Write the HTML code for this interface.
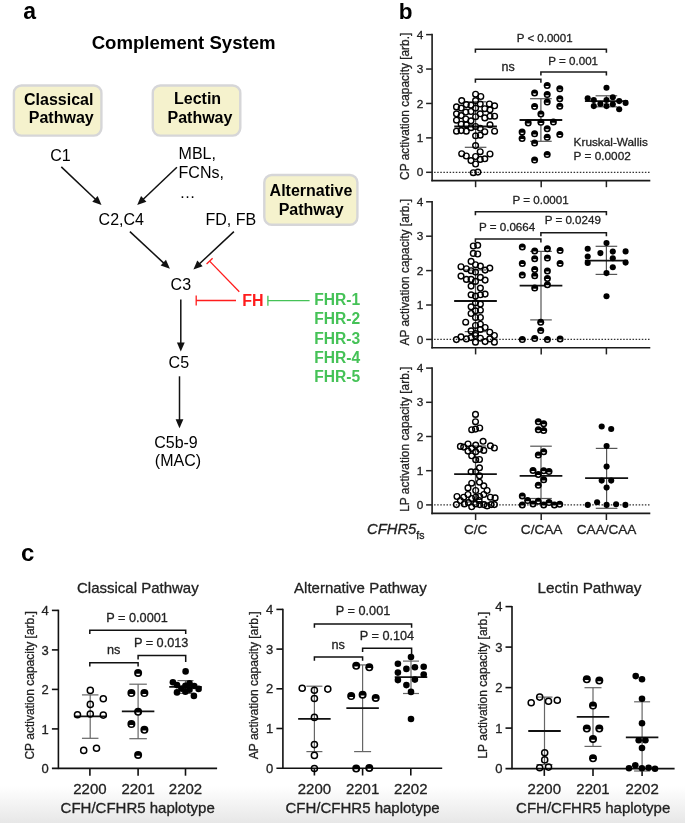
<!DOCTYPE html>
<html><head><meta charset="utf-8"><style>
html,body{margin:0;padding:0;background:#fff;}
svg{display:block;will-change:transform;}
text{font-family:"Liberation Sans", sans-serif;}
</style></head><body>
<svg width="685" height="824" viewBox="0 0 685 824" font-family='"Liberation Sans", sans-serif'>
<defs><linearGradient id="bg" x1="0" y1="0" x2="0" y2="1"><stop offset="0" stop-color="#ffffff"/><stop offset="0.3" stop-color="#f8f8f8"/><stop offset="1" stop-color="#e7e7e7"/></linearGradient></defs>
<rect x="0" y="786" width="685" height="37" fill="url(#bg)"/>
<text x="23.3" y="18.8" font-size="23" font-weight="bold" fill="#000" text-anchor="start">a</text>
<text x="91.7" y="49.0" font-size="18.6" font-weight="bold" fill="#000" text-anchor="start">Complement System</text>
<rect x="13.9" y="85.5" width="87.5" height="50.1" rx="7.5" ry="7.5" fill="#f5f2cd" stroke="#d6d6d8" stroke-width="2.4"/>
<rect x="152.8" y="85.5" width="87.5" height="50.1" rx="7.5" ry="7.5" fill="#f5f2cd" stroke="#d6d6d8" stroke-width="2.4"/>
<rect x="264.3" y="175.0" width="93.1" height="49.8" rx="7.5" ry="7.5" fill="#f5f2cd" stroke="#d6d6d8" stroke-width="2.4"/>
<text x="24.0" y="104.7" font-size="16" font-weight="bold" fill="#000" text-anchor="start">Classical</text>
<text x="28.8" y="123.2" font-size="16" font-weight="bold" fill="#000" text-anchor="start">Pathway</text>
<text x="174.0" y="103.9" font-size="16" font-weight="bold" fill="#000" text-anchor="start">Lectin</text>
<text x="167.5" y="123.2" font-size="16" font-weight="bold" fill="#000" text-anchor="start">Pathway</text>
<text x="269.6" y="196.2" font-size="16" font-weight="bold" fill="#000" text-anchor="start">Alternative</text>
<text x="278.7" y="214.6" font-size="16" font-weight="bold" fill="#000" text-anchor="start">Pathway</text>
<text x="50.3" y="161.0" font-size="16" fill="#000" text-anchor="start">C1</text>
<text x="178.6" y="159.4" font-size="16" fill="#000" text-anchor="start">MBL,</text>
<text x="178.6" y="177.7" font-size="16" fill="#000" text-anchor="start">FCNs,</text>
<text x="179.5" y="197.6" font-size="16" fill="#000" text-anchor="start">…</text>
<text x="98.6" y="225.3" font-size="16" fill="#000" text-anchor="start">C2,C4</text>
<text x="205.5" y="225.3" font-size="16" fill="#000" text-anchor="start">FD, FB</text>
<text x="170.6" y="290.3" font-size="16" fill="#000" text-anchor="start">C3</text>
<text x="168.6" y="367.5" font-size="16" fill="#000" text-anchor="start">C5</text>
<text x="154.2" y="448.4" font-size="16" fill="#000" text-anchor="start">C5b-9</text>
<text x="154.8" y="466.0" font-size="16" fill="#000" text-anchor="start">(MAC)</text>
<text x="242.3" y="305.6" font-size="16" font-weight="bold" fill="#ff1c1c" text-anchor="start">FH</text>
<text x="314.2" y="305.4" font-size="15.6" font-weight="bold" fill="#45c257" text-anchor="start">FHR-1</text>
<text x="314.2" y="324.4" font-size="15.6" font-weight="bold" fill="#45c257" text-anchor="start">FHR-2</text>
<text x="314.2" y="343.5" font-size="15.6" font-weight="bold" fill="#45c257" text-anchor="start">FHR-3</text>
<text x="314.2" y="362.5" font-size="15.6" font-weight="bold" fill="#45c257" text-anchor="start">FHR-4</text>
<text x="314.2" y="381.6" font-size="15.6" font-weight="bold" fill="#45c257" text-anchor="start">FHR-5</text>
<line x1="61.30" y1="166.90" x2="95.69" y2="199.50" stroke="#111" stroke-width="1.5"/>
<polygon points="101.50,205.00 92.28,201.64 97.65,195.98" fill="#111"/>
<line x1="176.90" y1="167.30" x2="143.00" y2="199.49" stroke="#111" stroke-width="1.5"/>
<polygon points="137.20,205.00 141.04,195.97 146.41,201.63" fill="#111"/>
<line x1="129.90" y1="231.60" x2="164.04" y2="263.35" stroke="#111" stroke-width="1.5"/>
<polygon points="169.90,268.80 160.65,265.53 165.97,259.82" fill="#111"/>
<line x1="233.90" y1="231.60" x2="199.24" y2="264.03" stroke="#111" stroke-width="1.5"/>
<polygon points="193.40,269.50 197.31,260.50 202.64,266.20" fill="#111"/>
<line x1="180.80" y1="299.50" x2="180.80" y2="343.50" stroke="#111" stroke-width="1.5"/>
<polygon points="180.80,351.50 176.90,342.50 184.70,342.50" fill="#111"/>
<line x1="179.50" y1="376.30" x2="179.50" y2="420.20" stroke="#111" stroke-width="1.5"/>
<polygon points="179.50,428.20 175.60,419.20 183.40,419.20" fill="#111"/>
<line x1="239.30" y1="291.80" x2="209.60" y2="261.10" stroke="#ff1c1c" stroke-width="1.3"/>
<line x1="212.62" y1="258.18" x2="206.58" y2="264.02" stroke="#ff1c1c" stroke-width="1.3"/>
<line x1="236.00" y1="300.50" x2="196.20" y2="300.50" stroke="#ff1c1c" stroke-width="1.3"/>
<line x1="196.20" y1="295.50" x2="196.20" y2="305.50" stroke="#ff1c1c" stroke-width="1.3"/>
<line x1="309.60" y1="300.70" x2="267.90" y2="300.70" stroke="#45c257" stroke-width="1.3"/>
<line x1="267.90" y1="295.70" x2="267.90" y2="305.70" stroke="#45c257" stroke-width="1.3"/>
<text x="398.8" y="18.5" font-size="22.5" font-weight="bold" fill="#000" text-anchor="start">b</text>
<line x1="432.10" y1="33.87" x2="432.10" y2="181.35" stroke="#1a1a1a" stroke-width="1.6"/>
<line x1="431.35" y1="180.60" x2="650.30" y2="180.60" stroke="#1a1a1a" stroke-width="1.6"/>
<line x1="426.10" y1="172.30" x2="432.10" y2="172.30" stroke="#222" stroke-width="1.5"/>
<text x="423.4" y="176.4" font-size="11.8" fill="#222" text-anchor="end" stroke="#222" stroke-width="0.3" stroke-linejoin="round">0</text>
<line x1="426.10" y1="137.88" x2="432.10" y2="137.88" stroke="#222" stroke-width="1.5"/>
<text x="423.4" y="142.0" font-size="11.8" fill="#222" text-anchor="end" stroke="#222" stroke-width="0.3" stroke-linejoin="round">1</text>
<line x1="426.10" y1="103.46" x2="432.10" y2="103.46" stroke="#222" stroke-width="1.5"/>
<text x="423.4" y="107.6" font-size="11.8" fill="#222" text-anchor="end" stroke="#222" stroke-width="0.3" stroke-linejoin="round">2</text>
<line x1="426.10" y1="69.04" x2="432.10" y2="69.04" stroke="#222" stroke-width="1.5"/>
<text x="423.4" y="73.1" font-size="11.8" fill="#222" text-anchor="end" stroke="#222" stroke-width="0.3" stroke-linejoin="round">3</text>
<line x1="426.10" y1="34.62" x2="432.10" y2="34.62" stroke="#222" stroke-width="1.5"/>
<text x="423.4" y="38.7" font-size="11.8" fill="#222" text-anchor="end" stroke="#222" stroke-width="0.3" stroke-linejoin="round">4</text>
<line x1="475.60" y1="180.60" x2="475.60" y2="187.20" stroke="#222" stroke-width="1.5"/>
<line x1="541.20" y1="180.60" x2="541.20" y2="187.20" stroke="#222" stroke-width="1.5"/>
<line x1="606.40" y1="180.60" x2="606.40" y2="187.20" stroke="#222" stroke-width="1.5"/>
<line x1="434.1" y1="172.3" x2="650" y2="172.3" stroke="#333" stroke-width="1.2" stroke-dasharray="1.5,1.6"/>
<text transform="translate(409.3,106.3) rotate(-90)" font-size="11.9" fill="#222" stroke="#222" stroke-width="0.3" stroke-linejoin="round" text-anchor="middle">CP activation capacity [arb.]</text>
<line x1="475.60" y1="101.80" x2="475.60" y2="147.30" stroke="#555" stroke-width="1.2"/>
<line x1="464.80" y1="101.80" x2="486.40" y2="101.80" stroke="#555" stroke-width="1.2"/>
<line x1="464.80" y1="147.30" x2="486.40" y2="147.30" stroke="#555" stroke-width="1.2"/>
<line x1="540.90" y1="98.70" x2="540.90" y2="141.30" stroke="#555" stroke-width="1.2"/>
<line x1="530.10" y1="98.70" x2="551.70" y2="98.70" stroke="#555" stroke-width="1.2"/>
<line x1="530.10" y1="141.30" x2="551.70" y2="141.30" stroke="#555" stroke-width="1.2"/>
<line x1="606.40" y1="95.80" x2="606.40" y2="106.80" stroke="#555" stroke-width="1.2"/>
<line x1="595.60" y1="95.80" x2="617.20" y2="95.80" stroke="#555" stroke-width="1.2"/>
<line x1="595.60" y1="106.80" x2="617.20" y2="106.80" stroke="#555" stroke-width="1.2"/>
<line x1="454.25" y1="126.50" x2="496.95" y2="126.50" stroke="#111" stroke-width="1.8"/>
<line x1="519.55" y1="120.00" x2="562.25" y2="120.00" stroke="#111" stroke-width="1.8"/>
<line x1="584.90" y1="101.10" x2="627.90" y2="101.10" stroke="#111" stroke-width="1.8"/>
<circle cx="475.6" cy="94.2" r="2.85" fill="none" stroke="#000" stroke-width="1.4"/>
<circle cx="480.8" cy="96.5" r="2.85" fill="none" stroke="#000" stroke-width="1.4"/>
<circle cx="461.7" cy="100.6" r="2.85" fill="none" stroke="#000" stroke-width="1.4"/>
<circle cx="475.6" cy="100.6" r="2.85" fill="none" stroke="#000" stroke-width="1.4"/>
<circle cx="466.3" cy="104.6" r="2.85" fill="none" stroke="#000" stroke-width="1.4"/>
<circle cx="471.0" cy="105.2" r="2.85" fill="none" stroke="#000" stroke-width="1.4"/>
<circle cx="480.2" cy="104.0" r="2.85" fill="none" stroke="#000" stroke-width="1.4"/>
<circle cx="489.4" cy="104.0" r="2.85" fill="none" stroke="#000" stroke-width="1.4"/>
<circle cx="494.6" cy="105.8" r="2.85" fill="none" stroke="#000" stroke-width="1.4"/>
<circle cx="456.5" cy="106.9" r="2.85" fill="none" stroke="#000" stroke-width="1.4"/>
<circle cx="461.2" cy="108.1" r="2.85" fill="none" stroke="#000" stroke-width="1.4"/>
<circle cx="475.6" cy="108.1" r="2.85" fill="none" stroke="#000" stroke-width="1.4"/>
<circle cx="484.8" cy="108.7" r="2.85" fill="none" stroke="#000" stroke-width="1.4"/>
<circle cx="456.5" cy="113.8" r="2.85" fill="none" stroke="#000" stroke-width="1.4"/>
<circle cx="465.8" cy="112.1" r="2.85" fill="none" stroke="#000" stroke-width="1.4"/>
<circle cx="471.0" cy="111.5" r="2.85" fill="none" stroke="#000" stroke-width="1.4"/>
<circle cx="480.2" cy="113.8" r="2.85" fill="none" stroke="#000" stroke-width="1.4"/>
<circle cx="490.0" cy="109.8" r="2.85" fill="none" stroke="#000" stroke-width="1.4"/>
<circle cx="461.2" cy="115.6" r="2.85" fill="none" stroke="#000" stroke-width="1.4"/>
<circle cx="475.6" cy="116.7" r="2.85" fill="none" stroke="#000" stroke-width="1.4"/>
<circle cx="484.8" cy="117.9" r="2.85" fill="none" stroke="#000" stroke-width="1.4"/>
<circle cx="490.0" cy="116.2" r="2.85" fill="none" stroke="#000" stroke-width="1.4"/>
<circle cx="494.6" cy="116.2" r="2.85" fill="none" stroke="#000" stroke-width="1.4"/>
<circle cx="456.5" cy="120.2" r="2.85" fill="none" stroke="#000" stroke-width="1.4"/>
<circle cx="465.8" cy="119.0" r="2.85" fill="none" stroke="#000" stroke-width="1.4"/>
<circle cx="471.0" cy="120.8" r="2.85" fill="none" stroke="#000" stroke-width="1.4"/>
<circle cx="461.2" cy="124.2" r="2.85" fill="none" stroke="#000" stroke-width="1.4"/>
<circle cx="466.3" cy="124.8" r="2.85" fill="none" stroke="#000" stroke-width="1.4"/>
<circle cx="475.6" cy="126.5" r="2.85" fill="none" stroke="#000" stroke-width="1.4"/>
<circle cx="490.0" cy="124.8" r="2.85" fill="none" stroke="#000" stroke-width="1.4"/>
<circle cx="456.5" cy="131.2" r="2.85" fill="none" stroke="#000" stroke-width="1.4"/>
<circle cx="461.2" cy="130.6" r="2.85" fill="none" stroke="#000" stroke-width="1.4"/>
<circle cx="466.3" cy="131.2" r="2.85" fill="none" stroke="#000" stroke-width="1.4"/>
<circle cx="471.0" cy="127.7" r="2.85" fill="none" stroke="#000" stroke-width="1.4"/>
<circle cx="480.2" cy="128.3" r="2.85" fill="none" stroke="#000" stroke-width="1.4"/>
<circle cx="484.8" cy="131.7" r="2.85" fill="none" stroke="#000" stroke-width="1.4"/>
<circle cx="494.6" cy="131.2" r="2.85" fill="none" stroke="#000" stroke-width="1.4"/>
<circle cx="475.6" cy="135.8" r="2.85" fill="none" stroke="#000" stroke-width="1.4"/>
<circle cx="480.2" cy="135.2" r="2.85" fill="none" stroke="#000" stroke-width="1.4"/>
<circle cx="475.6" cy="145.6" r="2.85" fill="none" stroke="#000" stroke-width="1.4"/>
<circle cx="461.7" cy="153.7" r="2.85" fill="none" stroke="#000" stroke-width="1.4"/>
<circle cx="466.3" cy="156.0" r="2.85" fill="none" stroke="#000" stroke-width="1.4"/>
<circle cx="480.2" cy="151.7" r="2.85" fill="none" stroke="#000" stroke-width="1.4"/>
<circle cx="490.0" cy="154.0" r="2.85" fill="none" stroke="#000" stroke-width="1.4"/>
<circle cx="471.0" cy="160.6" r="2.85" fill="none" stroke="#000" stroke-width="1.4"/>
<circle cx="475.6" cy="156.5" r="2.85" fill="none" stroke="#000" stroke-width="1.4"/>
<circle cx="480.2" cy="159.4" r="2.85" fill="none" stroke="#000" stroke-width="1.4"/>
<circle cx="484.8" cy="158.8" r="2.85" fill="none" stroke="#000" stroke-width="1.4"/>
<circle cx="475.6" cy="164.0" r="2.85" fill="none" stroke="#000" stroke-width="1.4"/>
<circle cx="473.3" cy="172.7" r="2.85" fill="none" stroke="#000" stroke-width="1.4"/>
<circle cx="477.9" cy="172.1" r="2.85" fill="none" stroke="#000" stroke-width="1.4"/>
<circle cx="547.2" cy="85.4" r="3.5" fill="#000"/>
<path d="M545.40,85.98 A1.75,1.40 0 0 0 548.90,85.98 Z" fill="#fff"/>
<circle cx="559.8" cy="88.8" r="3.5" fill="#000"/>
<path d="M558.09,89.45 A1.75,1.40 0 0 0 561.59,89.45 Z" fill="#fff"/>
<circle cx="534.6" cy="92.9" r="3.5" fill="#000"/>
<path d="M532.83,93.48 A1.75,1.40 0 0 0 536.33,93.48 Z" fill="#fff"/>
<circle cx="547.2" cy="94.6" r="3.5" fill="#000"/>
<path d="M545.40,95.21 A1.75,1.40 0 0 0 548.90,95.21 Z" fill="#fff"/>
<circle cx="559.8" cy="98.7" r="3.5" fill="#000"/>
<path d="M558.09,99.25 A1.75,1.40 0 0 0 561.59,99.25 Z" fill="#fff"/>
<circle cx="547.2" cy="102.1" r="3.5" fill="#000"/>
<path d="M545.40,102.71 A1.75,1.40 0 0 0 548.90,102.71 Z" fill="#fff"/>
<circle cx="534.6" cy="106.4" r="3.5" fill="#000"/>
<path d="M532.83,106.98 A1.75,1.40 0 0 0 536.33,106.98 Z" fill="#fff"/>
<circle cx="559.8" cy="106.2" r="3.5" fill="#000"/>
<path d="M558.09,106.75 A1.75,1.40 0 0 0 561.59,106.75 Z" fill="#fff"/>
<circle cx="540.9" cy="114.0" r="3.5" fill="#000"/>
<path d="M539.17,114.60 A1.75,1.40 0 0 0 542.67,114.60 Z" fill="#fff"/>
<circle cx="528.2" cy="122.9" r="3.5" fill="#000"/>
<path d="M526.48,123.48 A1.75,1.40 0 0 0 529.98,123.48 Z" fill="#fff"/>
<circle cx="540.9" cy="122.3" r="3.5" fill="#000"/>
<path d="M539.17,122.91 A1.75,1.40 0 0 0 542.67,122.91 Z" fill="#fff"/>
<circle cx="553.4" cy="122.1" r="3.5" fill="#000"/>
<path d="M551.63,122.68 A1.75,1.40 0 0 0 555.13,122.68 Z" fill="#fff"/>
<circle cx="547.2" cy="128.7" r="3.5" fill="#000"/>
<path d="M545.40,129.25 A1.75,1.40 0 0 0 548.90,129.25 Z" fill="#fff"/>
<circle cx="522.1" cy="132.1" r="3.5" fill="#000"/>
<path d="M520.36,132.71 A1.75,1.40 0 0 0 523.86,132.71 Z" fill="#fff"/>
<circle cx="534.6" cy="133.8" r="3.5" fill="#000"/>
<path d="M532.83,134.44 A1.75,1.40 0 0 0 536.33,134.44 Z" fill="#fff"/>
<circle cx="559.8" cy="134.4" r="3.5" fill="#000"/>
<path d="M558.09,135.02 A1.75,1.40 0 0 0 561.59,135.02 Z" fill="#fff"/>
<circle cx="522.1" cy="138.5" r="3.5" fill="#000"/>
<path d="M520.36,139.06 A1.75,1.40 0 0 0 523.86,139.06 Z" fill="#fff"/>
<circle cx="547.2" cy="137.3" r="3.5" fill="#000"/>
<path d="M545.40,137.91 A1.75,1.40 0 0 0 548.90,137.91 Z" fill="#fff"/>
<circle cx="534.6" cy="143.1" r="3.5" fill="#000"/>
<path d="M532.83,143.67 A1.75,1.40 0 0 0 536.33,143.67 Z" fill="#fff"/>
<circle cx="547.2" cy="154.6" r="3.5" fill="#000"/>
<path d="M545.40,155.21 A1.75,1.40 0 0 0 548.90,155.21 Z" fill="#fff"/>
<circle cx="534.6" cy="160.0" r="3.5" fill="#000"/>
<path d="M532.83,160.64 A1.75,1.40 0 0 0 536.33,160.64 Z" fill="#fff"/>
<circle cx="606.5" cy="87.7" r="3.05" fill="#000"/>
<circle cx="587.7" cy="98.2" r="3.05" fill="#000"/>
<circle cx="593.8" cy="100.0" r="3.05" fill="#000"/>
<circle cx="606.5" cy="100.0" r="3.05" fill="#000"/>
<circle cx="612.8" cy="97.3" r="3.05" fill="#000"/>
<circle cx="619.2" cy="101.1" r="3.05" fill="#000"/>
<circle cx="625.6" cy="102.9" r="3.05" fill="#000"/>
<circle cx="600.4" cy="103.9" r="3.05" fill="#000"/>
<circle cx="593.8" cy="106.1" r="3.05" fill="#000"/>
<circle cx="606.5" cy="106.1" r="3.05" fill="#000"/>
<circle cx="612.8" cy="104.3" r="3.05" fill="#000"/>
<circle cx="619.2" cy="109.2" r="3.05" fill="#000"/>
<line x1="432.10" y1="201.05" x2="432.10" y2="348.55" stroke="#1a1a1a" stroke-width="1.6"/>
<line x1="431.35" y1="347.80" x2="650.30" y2="347.80" stroke="#1a1a1a" stroke-width="1.6"/>
<line x1="426.10" y1="339.40" x2="432.10" y2="339.40" stroke="#222" stroke-width="1.5"/>
<text x="423.4" y="343.5" font-size="11.8" fill="#222" text-anchor="end" stroke="#222" stroke-width="0.3" stroke-linejoin="round">0</text>
<line x1="426.10" y1="305.00" x2="432.10" y2="305.00" stroke="#222" stroke-width="1.5"/>
<text x="423.4" y="309.1" font-size="11.8" fill="#222" text-anchor="end" stroke="#222" stroke-width="0.3" stroke-linejoin="round">1</text>
<line x1="426.10" y1="270.60" x2="432.10" y2="270.60" stroke="#222" stroke-width="1.5"/>
<text x="423.4" y="274.7" font-size="11.8" fill="#222" text-anchor="end" stroke="#222" stroke-width="0.3" stroke-linejoin="round">2</text>
<line x1="426.10" y1="236.20" x2="432.10" y2="236.20" stroke="#222" stroke-width="1.5"/>
<text x="423.4" y="240.3" font-size="11.8" fill="#222" text-anchor="end" stroke="#222" stroke-width="0.3" stroke-linejoin="round">3</text>
<line x1="426.10" y1="201.80" x2="432.10" y2="201.80" stroke="#222" stroke-width="1.5"/>
<text x="423.4" y="205.9" font-size="11.8" fill="#222" text-anchor="end" stroke="#222" stroke-width="0.3" stroke-linejoin="round">4</text>
<line x1="475.60" y1="347.80" x2="475.60" y2="354.40" stroke="#222" stroke-width="1.5"/>
<line x1="541.20" y1="347.80" x2="541.20" y2="354.40" stroke="#222" stroke-width="1.5"/>
<line x1="606.40" y1="347.80" x2="606.40" y2="354.40" stroke="#222" stroke-width="1.5"/>
<line x1="434.1" y1="339.4" x2="650" y2="339.4" stroke="#333" stroke-width="1.2" stroke-dasharray="1.5,1.6"/>
<text transform="translate(409.3,272.3) rotate(-90)" font-size="11.9" fill="#222" stroke="#222" stroke-width="0.3" stroke-linejoin="round" text-anchor="middle">AP activation capacity [arb.]</text>
<line x1="475.50" y1="270.00" x2="475.50" y2="331.60" stroke="#555" stroke-width="1.2"/>
<line x1="464.70" y1="270.00" x2="486.30" y2="270.00" stroke="#555" stroke-width="1.2"/>
<line x1="464.70" y1="331.60" x2="486.30" y2="331.60" stroke="#555" stroke-width="1.2"/>
<line x1="541.00" y1="251.40" x2="541.00" y2="319.90" stroke="#555" stroke-width="1.2"/>
<line x1="530.20" y1="251.40" x2="551.80" y2="251.40" stroke="#555" stroke-width="1.2"/>
<line x1="530.20" y1="319.90" x2="551.80" y2="319.90" stroke="#555" stroke-width="1.2"/>
<line x1="606.40" y1="246.30" x2="606.40" y2="274.40" stroke="#555" stroke-width="1.2"/>
<line x1="595.60" y1="246.30" x2="617.20" y2="246.30" stroke="#555" stroke-width="1.2"/>
<line x1="595.60" y1="274.40" x2="617.20" y2="274.40" stroke="#555" stroke-width="1.2"/>
<line x1="454.15" y1="301.00" x2="496.85" y2="301.00" stroke="#111" stroke-width="1.8"/>
<line x1="519.65" y1="285.70" x2="562.35" y2="285.70" stroke="#111" stroke-width="1.8"/>
<line x1="584.90" y1="260.60" x2="627.90" y2="260.60" stroke="#111" stroke-width="1.8"/>
<circle cx="473.3" cy="246.0" r="2.85" fill="none" stroke="#000" stroke-width="1.4"/>
<circle cx="477.7" cy="245.3" r="2.85" fill="none" stroke="#000" stroke-width="1.4"/>
<circle cx="473.3" cy="253.4" r="2.85" fill="none" stroke="#000" stroke-width="1.4"/>
<circle cx="477.7" cy="254.0" r="2.85" fill="none" stroke="#000" stroke-width="1.4"/>
<circle cx="471.1" cy="261.4" r="2.85" fill="none" stroke="#000" stroke-width="1.4"/>
<circle cx="461.0" cy="266.7" r="2.85" fill="none" stroke="#000" stroke-width="1.4"/>
<circle cx="466.4" cy="268.7" r="2.85" fill="none" stroke="#000" stroke-width="1.4"/>
<circle cx="471.1" cy="270.7" r="2.85" fill="none" stroke="#000" stroke-width="1.4"/>
<circle cx="475.5" cy="264.7" r="2.85" fill="none" stroke="#000" stroke-width="1.4"/>
<circle cx="480.4" cy="266.1" r="2.85" fill="none" stroke="#000" stroke-width="1.4"/>
<circle cx="485.1" cy="270.1" r="2.85" fill="none" stroke="#000" stroke-width="1.4"/>
<circle cx="489.8" cy="268.1" r="2.85" fill="none" stroke="#000" stroke-width="1.4"/>
<circle cx="475.5" cy="272.1" r="2.85" fill="none" stroke="#000" stroke-width="1.4"/>
<circle cx="461.0" cy="276.1" r="2.85" fill="none" stroke="#000" stroke-width="1.4"/>
<circle cx="466.4" cy="279.4" r="2.85" fill="none" stroke="#000" stroke-width="1.4"/>
<circle cx="471.1" cy="279.4" r="2.85" fill="none" stroke="#000" stroke-width="1.4"/>
<circle cx="475.5" cy="281.4" r="2.85" fill="none" stroke="#000" stroke-width="1.4"/>
<circle cx="480.4" cy="277.4" r="2.85" fill="none" stroke="#000" stroke-width="1.4"/>
<circle cx="485.1" cy="280.1" r="2.85" fill="none" stroke="#000" stroke-width="1.4"/>
<circle cx="471.1" cy="286.1" r="2.85" fill="none" stroke="#000" stroke-width="1.4"/>
<circle cx="480.4" cy="288.1" r="2.85" fill="none" stroke="#000" stroke-width="1.4"/>
<circle cx="471.1" cy="294.8" r="2.85" fill="none" stroke="#000" stroke-width="1.4"/>
<circle cx="475.5" cy="296.1" r="2.85" fill="none" stroke="#000" stroke-width="1.4"/>
<circle cx="480.4" cy="294.8" r="2.85" fill="none" stroke="#000" stroke-width="1.4"/>
<circle cx="485.1" cy="294.1" r="2.85" fill="none" stroke="#000" stroke-width="1.4"/>
<circle cx="475.5" cy="302.8" r="2.85" fill="none" stroke="#000" stroke-width="1.4"/>
<circle cx="480.4" cy="304.1" r="2.85" fill="none" stroke="#000" stroke-width="1.4"/>
<circle cx="471.1" cy="306.8" r="2.85" fill="none" stroke="#000" stroke-width="1.4"/>
<circle cx="475.5" cy="310.8" r="2.85" fill="none" stroke="#000" stroke-width="1.4"/>
<circle cx="480.4" cy="310.2" r="2.85" fill="none" stroke="#000" stroke-width="1.4"/>
<circle cx="471.1" cy="313.5" r="2.85" fill="none" stroke="#000" stroke-width="1.4"/>
<circle cx="475.5" cy="317.5" r="2.85" fill="none" stroke="#000" stroke-width="1.4"/>
<circle cx="480.4" cy="317.5" r="2.85" fill="none" stroke="#000" stroke-width="1.4"/>
<circle cx="465.7" cy="322.2" r="2.85" fill="none" stroke="#000" stroke-width="1.4"/>
<circle cx="475.5" cy="325.5" r="2.85" fill="none" stroke="#000" stroke-width="1.4"/>
<circle cx="480.4" cy="324.2" r="2.85" fill="none" stroke="#000" stroke-width="1.4"/>
<circle cx="485.1" cy="327.5" r="2.85" fill="none" stroke="#000" stroke-width="1.4"/>
<circle cx="471.1" cy="330.9" r="2.85" fill="none" stroke="#000" stroke-width="1.4"/>
<circle cx="475.5" cy="333.5" r="2.85" fill="none" stroke="#000" stroke-width="1.4"/>
<circle cx="480.4" cy="329.5" r="2.85" fill="none" stroke="#000" stroke-width="1.4"/>
<circle cx="489.8" cy="332.2" r="2.85" fill="none" stroke="#000" stroke-width="1.4"/>
<circle cx="494.4" cy="335.5" r="2.85" fill="none" stroke="#000" stroke-width="1.4"/>
<circle cx="456.4" cy="339.6" r="2.85" fill="none" stroke="#000" stroke-width="1.4"/>
<circle cx="461.0" cy="336.9" r="2.85" fill="none" stroke="#000" stroke-width="1.4"/>
<circle cx="466.4" cy="338.9" r="2.85" fill="none" stroke="#000" stroke-width="1.4"/>
<circle cx="471.1" cy="337.6" r="2.85" fill="none" stroke="#000" stroke-width="1.4"/>
<circle cx="475.5" cy="342.2" r="2.85" fill="none" stroke="#000" stroke-width="1.4"/>
<circle cx="480.4" cy="338.2" r="2.85" fill="none" stroke="#000" stroke-width="1.4"/>
<circle cx="485.1" cy="341.6" r="2.85" fill="none" stroke="#000" stroke-width="1.4"/>
<circle cx="489.8" cy="338.9" r="2.85" fill="none" stroke="#000" stroke-width="1.4"/>
<circle cx="494.4" cy="342.2" r="2.85" fill="none" stroke="#000" stroke-width="1.4"/>
<circle cx="475.5" cy="335.5" r="2.85" fill="none" stroke="#000" stroke-width="1.4"/>
<circle cx="522.3" cy="246.9" r="3.5" fill="#000"/>
<path d="M520.54,247.55 A1.75,1.40 0 0 0 524.04,247.55 Z" fill="#fff"/>
<circle cx="534.7" cy="251.0" r="3.5" fill="#000"/>
<path d="M532.97,251.56 A1.75,1.40 0 0 0 536.47,251.56 Z" fill="#fff"/>
<circle cx="547.4" cy="248.7" r="3.5" fill="#000"/>
<path d="M545.67,249.29 A1.75,1.40 0 0 0 549.17,249.29 Z" fill="#fff"/>
<circle cx="560.1" cy="250.4" r="3.5" fill="#000"/>
<path d="M558.36,251.02 A1.75,1.40 0 0 0 561.86,251.02 Z" fill="#fff"/>
<circle cx="534.7" cy="258.7" r="3.5" fill="#000"/>
<path d="M532.97,259.31 A1.75,1.40 0 0 0 536.47,259.31 Z" fill="#fff"/>
<circle cx="547.4" cy="258.0" r="3.5" fill="#000"/>
<path d="M545.67,258.64 A1.75,1.40 0 0 0 549.17,258.64 Z" fill="#fff"/>
<circle cx="522.3" cy="263.4" r="3.5" fill="#000"/>
<path d="M520.54,263.99 A1.75,1.40 0 0 0 524.04,263.99 Z" fill="#fff"/>
<circle cx="560.1" cy="263.4" r="3.5" fill="#000"/>
<path d="M558.36,263.99 A1.75,1.40 0 0 0 561.86,263.99 Z" fill="#fff"/>
<circle cx="534.7" cy="269.4" r="3.5" fill="#000"/>
<path d="M532.97,270.00 A1.75,1.40 0 0 0 536.47,270.00 Z" fill="#fff"/>
<circle cx="547.4" cy="271.0" r="3.5" fill="#000"/>
<path d="M545.67,271.60 A1.75,1.40 0 0 0 549.17,271.60 Z" fill="#fff"/>
<circle cx="522.3" cy="275.0" r="3.5" fill="#000"/>
<path d="M520.54,275.61 A1.75,1.40 0 0 0 524.04,275.61 Z" fill="#fff"/>
<circle cx="534.7" cy="275.8" r="3.5" fill="#000"/>
<path d="M532.97,276.41 A1.75,1.40 0 0 0 536.47,276.41 Z" fill="#fff"/>
<circle cx="547.4" cy="278.5" r="3.5" fill="#000"/>
<path d="M545.67,279.09 A1.75,1.40 0 0 0 549.17,279.09 Z" fill="#fff"/>
<circle cx="547.4" cy="284.8" r="3.5" fill="#000"/>
<path d="M545.67,285.37 A1.75,1.40 0 0 0 549.17,285.37 Z" fill="#fff"/>
<circle cx="534.7" cy="288.1" r="3.5" fill="#000"/>
<path d="M532.97,288.71 A1.75,1.40 0 0 0 536.47,288.71 Z" fill="#fff"/>
<circle cx="540.7" cy="322.2" r="3.5" fill="#000"/>
<path d="M538.99,322.79 A1.75,1.40 0 0 0 542.49,322.79 Z" fill="#fff"/>
<circle cx="540.7" cy="330.6" r="3.5" fill="#000"/>
<path d="M538.99,331.21 A1.75,1.40 0 0 0 542.49,331.21 Z" fill="#fff"/>
<circle cx="522.3" cy="339.6" r="3.5" fill="#000"/>
<path d="M520.54,340.16 A1.75,1.40 0 0 0 524.04,340.16 Z" fill="#fff"/>
<circle cx="534.7" cy="338.6" r="3.5" fill="#000"/>
<path d="M532.97,339.22 A1.75,1.40 0 0 0 536.47,339.22 Z" fill="#fff"/>
<circle cx="547.4" cy="339.6" r="3.5" fill="#000"/>
<path d="M545.67,340.16 A1.75,1.40 0 0 0 549.17,340.16 Z" fill="#fff"/>
<circle cx="560.1" cy="338.9" r="3.5" fill="#000"/>
<path d="M558.36,339.49 A1.75,1.40 0 0 0 561.86,339.49 Z" fill="#fff"/>
<circle cx="606.5" cy="243.1" r="3.05" fill="#000"/>
<circle cx="587.7" cy="248.8" r="3.05" fill="#000"/>
<circle cx="600.4" cy="253.1" r="3.05" fill="#000"/>
<circle cx="612.8" cy="251.6" r="3.05" fill="#000"/>
<circle cx="625.6" cy="251.4" r="3.05" fill="#000"/>
<circle cx="587.7" cy="256.5" r="3.05" fill="#000"/>
<circle cx="612.8" cy="258.2" r="3.05" fill="#000"/>
<circle cx="587.7" cy="262.9" r="3.05" fill="#000"/>
<circle cx="625.6" cy="262.6" r="3.05" fill="#000"/>
<circle cx="612.8" cy="267.2" r="3.05" fill="#000"/>
<circle cx="606.5" cy="273.1" r="3.05" fill="#000"/>
<circle cx="606.5" cy="296.2" r="3.05" fill="#000"/>
<line x1="432.10" y1="367.35" x2="432.10" y2="514.15" stroke="#1a1a1a" stroke-width="1.6"/>
<line x1="431.35" y1="513.40" x2="650.30" y2="513.40" stroke="#1a1a1a" stroke-width="1.6"/>
<line x1="426.10" y1="504.90" x2="432.10" y2="504.90" stroke="#222" stroke-width="1.5"/>
<text x="423.4" y="509.0" font-size="11.8" fill="#222" text-anchor="end" stroke="#222" stroke-width="0.3" stroke-linejoin="round">0</text>
<line x1="426.10" y1="470.70" x2="432.10" y2="470.70" stroke="#222" stroke-width="1.5"/>
<text x="423.4" y="474.8" font-size="11.8" fill="#222" text-anchor="end" stroke="#222" stroke-width="0.3" stroke-linejoin="round">1</text>
<line x1="426.10" y1="436.50" x2="432.10" y2="436.50" stroke="#222" stroke-width="1.5"/>
<text x="423.4" y="440.6" font-size="11.8" fill="#222" text-anchor="end" stroke="#222" stroke-width="0.3" stroke-linejoin="round">2</text>
<line x1="426.10" y1="402.30" x2="432.10" y2="402.30" stroke="#222" stroke-width="1.5"/>
<text x="423.4" y="406.4" font-size="11.8" fill="#222" text-anchor="end" stroke="#222" stroke-width="0.3" stroke-linejoin="round">3</text>
<line x1="426.10" y1="368.10" x2="432.10" y2="368.10" stroke="#222" stroke-width="1.5"/>
<text x="423.4" y="372.2" font-size="11.8" fill="#222" text-anchor="end" stroke="#222" stroke-width="0.3" stroke-linejoin="round">4</text>
<line x1="475.60" y1="513.40" x2="475.60" y2="520.00" stroke="#222" stroke-width="1.5"/>
<line x1="541.20" y1="513.40" x2="541.20" y2="520.00" stroke="#222" stroke-width="1.5"/>
<line x1="606.40" y1="513.40" x2="606.40" y2="520.00" stroke="#222" stroke-width="1.5"/>
<line x1="434.1" y1="504.9" x2="650" y2="504.9" stroke="#333" stroke-width="1.2" stroke-dasharray="1.5,1.6"/>
<text transform="translate(409.3,439.2) rotate(-90)" font-size="11.9" fill="#222" stroke="#222" stroke-width="0.3" stroke-linejoin="round" text-anchor="middle">LP activation capacity [arb.]</text>
<line x1="475.50" y1="446.00" x2="475.50" y2="502.00" stroke="#555" stroke-width="1.2"/>
<line x1="464.70" y1="446.00" x2="486.30" y2="446.00" stroke="#555" stroke-width="1.2"/>
<line x1="464.70" y1="502.00" x2="486.30" y2="502.00" stroke="#555" stroke-width="1.2"/>
<line x1="541.00" y1="446.20" x2="541.00" y2="498.50" stroke="#555" stroke-width="1.2"/>
<line x1="530.20" y1="446.20" x2="551.80" y2="446.20" stroke="#555" stroke-width="1.2"/>
<line x1="530.20" y1="498.50" x2="551.80" y2="498.50" stroke="#555" stroke-width="1.2"/>
<line x1="606.60" y1="448.40" x2="606.60" y2="508.30" stroke="#555" stroke-width="1.2"/>
<line x1="595.80" y1="448.40" x2="617.40" y2="448.40" stroke="#555" stroke-width="1.2"/>
<line x1="595.80" y1="508.30" x2="617.40" y2="508.30" stroke="#555" stroke-width="1.2"/>
<line x1="454.15" y1="474.20" x2="496.85" y2="474.20" stroke="#111" stroke-width="1.8"/>
<line x1="519.65" y1="475.80" x2="562.35" y2="475.80" stroke="#111" stroke-width="1.8"/>
<line x1="585.10" y1="478.20" x2="628.10" y2="478.20" stroke="#111" stroke-width="1.8"/>
<circle cx="475.5" cy="414.4" r="2.85" fill="none" stroke="#000" stroke-width="1.4"/>
<circle cx="475.5" cy="421.7" r="2.85" fill="none" stroke="#000" stroke-width="1.4"/>
<circle cx="471.7" cy="429.7" r="2.85" fill="none" stroke="#000" stroke-width="1.4"/>
<circle cx="475.5" cy="429.1" r="2.85" fill="none" stroke="#000" stroke-width="1.4"/>
<circle cx="479.7" cy="428.0" r="2.85" fill="none" stroke="#000" stroke-width="1.4"/>
<circle cx="483.1" cy="441.3" r="2.85" fill="none" stroke="#000" stroke-width="1.4"/>
<circle cx="460.4" cy="446.4" r="2.85" fill="none" stroke="#000" stroke-width="1.4"/>
<circle cx="463.7" cy="447.1" r="2.85" fill="none" stroke="#000" stroke-width="1.4"/>
<circle cx="468.0" cy="444.0" r="2.85" fill="none" stroke="#000" stroke-width="1.4"/>
<circle cx="471.7" cy="448.4" r="2.85" fill="none" stroke="#000" stroke-width="1.4"/>
<circle cx="475.7" cy="445.1" r="2.85" fill="none" stroke="#000" stroke-width="1.4"/>
<circle cx="479.7" cy="449.1" r="2.85" fill="none" stroke="#000" stroke-width="1.4"/>
<circle cx="483.8" cy="450.4" r="2.85" fill="none" stroke="#000" stroke-width="1.4"/>
<circle cx="468.0" cy="451.1" r="2.85" fill="none" stroke="#000" stroke-width="1.4"/>
<circle cx="475.7" cy="451.8" r="2.85" fill="none" stroke="#000" stroke-width="1.4"/>
<circle cx="490.4" cy="445.8" r="2.85" fill="none" stroke="#000" stroke-width="1.4"/>
<circle cx="494.4" cy="448.0" r="2.85" fill="none" stroke="#000" stroke-width="1.4"/>
<circle cx="471.7" cy="455.8" r="2.85" fill="none" stroke="#000" stroke-width="1.4"/>
<circle cx="475.7" cy="459.8" r="2.85" fill="none" stroke="#000" stroke-width="1.4"/>
<circle cx="479.5" cy="459.5" r="2.85" fill="none" stroke="#000" stroke-width="1.4"/>
<circle cx="479.5" cy="467.8" r="2.85" fill="none" stroke="#000" stroke-width="1.4"/>
<circle cx="471.1" cy="471.8" r="2.85" fill="none" stroke="#000" stroke-width="1.4"/>
<circle cx="475.7" cy="471.8" r="2.85" fill="none" stroke="#000" stroke-width="1.4"/>
<circle cx="479.5" cy="475.8" r="2.85" fill="none" stroke="#000" stroke-width="1.4"/>
<circle cx="471.7" cy="483.2" r="2.85" fill="none" stroke="#000" stroke-width="1.4"/>
<circle cx="479.5" cy="482.2" r="2.85" fill="none" stroke="#000" stroke-width="1.4"/>
<circle cx="468.0" cy="487.9" r="2.85" fill="none" stroke="#000" stroke-width="1.4"/>
<circle cx="483.8" cy="485.8" r="2.85" fill="none" stroke="#000" stroke-width="1.4"/>
<circle cx="475.7" cy="490.5" r="2.85" fill="none" stroke="#000" stroke-width="1.4"/>
<circle cx="487.1" cy="490.5" r="2.85" fill="none" stroke="#000" stroke-width="1.4"/>
<circle cx="457.0" cy="496.5" r="2.85" fill="none" stroke="#000" stroke-width="1.4"/>
<circle cx="463.7" cy="497.2" r="2.85" fill="none" stroke="#000" stroke-width="1.4"/>
<circle cx="468.0" cy="494.5" r="2.85" fill="none" stroke="#000" stroke-width="1.4"/>
<circle cx="471.7" cy="498.5" r="2.85" fill="none" stroke="#000" stroke-width="1.4"/>
<circle cx="475.7" cy="497.2" r="2.85" fill="none" stroke="#000" stroke-width="1.4"/>
<circle cx="479.7" cy="496.5" r="2.85" fill="none" stroke="#000" stroke-width="1.4"/>
<circle cx="483.8" cy="494.5" r="2.85" fill="none" stroke="#000" stroke-width="1.4"/>
<circle cx="490.4" cy="497.2" r="2.85" fill="none" stroke="#000" stroke-width="1.4"/>
<circle cx="495.1" cy="497.9" r="2.85" fill="none" stroke="#000" stroke-width="1.4"/>
<circle cx="456.4" cy="504.6" r="2.85" fill="none" stroke="#000" stroke-width="1.4"/>
<circle cx="460.4" cy="500.5" r="2.85" fill="none" stroke="#000" stroke-width="1.4"/>
<circle cx="464.4" cy="503.9" r="2.85" fill="none" stroke="#000" stroke-width="1.4"/>
<circle cx="468.4" cy="502.6" r="2.85" fill="none" stroke="#000" stroke-width="1.4"/>
<circle cx="471.7" cy="506.8" r="2.85" fill="none" stroke="#000" stroke-width="1.4"/>
<circle cx="475.7" cy="503.9" r="2.85" fill="none" stroke="#000" stroke-width="1.4"/>
<circle cx="479.7" cy="504.6" r="2.85" fill="none" stroke="#000" stroke-width="1.4"/>
<circle cx="483.8" cy="504.6" r="2.85" fill="none" stroke="#000" stroke-width="1.4"/>
<circle cx="487.1" cy="505.9" r="2.85" fill="none" stroke="#000" stroke-width="1.4"/>
<circle cx="491.1" cy="504.6" r="2.85" fill="none" stroke="#000" stroke-width="1.4"/>
<circle cx="494.4" cy="504.6" r="2.85" fill="none" stroke="#000" stroke-width="1.4"/>
<circle cx="479.1" cy="500.5" r="2.85" fill="none" stroke="#000" stroke-width="1.4"/>
<circle cx="538.3" cy="421.7" r="3.5" fill="#000"/>
<path d="M536.58,422.30 A1.75,1.40 0 0 0 540.08,422.30 Z" fill="#fff"/>
<circle cx="543.7" cy="423.7" r="3.5" fill="#000"/>
<path d="M541.93,424.31 A1.75,1.40 0 0 0 545.43,424.31 Z" fill="#fff"/>
<circle cx="538.3" cy="429.7" r="3.5" fill="#000"/>
<path d="M536.58,430.32 A1.75,1.40 0 0 0 540.08,430.32 Z" fill="#fff"/>
<circle cx="543.7" cy="430.4" r="3.5" fill="#000"/>
<path d="M541.93,430.99 A1.75,1.40 0 0 0 545.43,430.99 Z" fill="#fff"/>
<circle cx="543.7" cy="451.8" r="3.5" fill="#000"/>
<path d="M541.93,452.37 A1.75,1.40 0 0 0 545.43,452.37 Z" fill="#fff"/>
<circle cx="538.3" cy="455.1" r="3.5" fill="#000"/>
<path d="M536.58,455.71 A1.75,1.40 0 0 0 540.08,455.71 Z" fill="#fff"/>
<circle cx="533.0" cy="470.5" r="3.5" fill="#000"/>
<path d="M531.24,471.08 A1.75,1.40 0 0 0 534.74,471.08 Z" fill="#fff"/>
<circle cx="538.3" cy="474.5" r="3.5" fill="#000"/>
<path d="M536.58,475.09 A1.75,1.40 0 0 0 540.08,475.09 Z" fill="#fff"/>
<circle cx="543.7" cy="470.7" r="3.5" fill="#000"/>
<path d="M541.93,471.35 A1.75,1.40 0 0 0 545.43,471.35 Z" fill="#fff"/>
<circle cx="549.0" cy="471.6" r="3.5" fill="#000"/>
<path d="M547.27,472.15 A1.75,1.40 0 0 0 550.77,472.15 Z" fill="#fff"/>
<circle cx="543.7" cy="479.8" r="3.5" fill="#000"/>
<path d="M541.93,480.44 A1.75,1.40 0 0 0 545.43,480.44 Z" fill="#fff"/>
<circle cx="538.3" cy="485.2" r="3.5" fill="#000"/>
<path d="M536.58,485.78 A1.75,1.40 0 0 0 540.08,485.78 Z" fill="#fff"/>
<circle cx="522.3" cy="495.9" r="3.5" fill="#000"/>
<path d="M520.54,496.47 A1.75,1.40 0 0 0 524.04,496.47 Z" fill="#fff"/>
<circle cx="527.6" cy="500.5" r="3.5" fill="#000"/>
<path d="M525.89,501.15 A1.75,1.40 0 0 0 529.39,501.15 Z" fill="#fff"/>
<circle cx="533.0" cy="503.9" r="3.5" fill="#000"/>
<path d="M531.24,504.49 A1.75,1.40 0 0 0 534.74,504.49 Z" fill="#fff"/>
<circle cx="538.3" cy="501.2" r="3.5" fill="#000"/>
<path d="M536.58,501.82 A1.75,1.40 0 0 0 540.08,501.82 Z" fill="#fff"/>
<circle cx="543.7" cy="505.0" r="3.5" fill="#000"/>
<path d="M541.93,505.56 A1.75,1.40 0 0 0 545.43,505.56 Z" fill="#fff"/>
<circle cx="549.0" cy="502.6" r="3.5" fill="#000"/>
<path d="M547.27,503.15 A1.75,1.40 0 0 0 550.77,503.15 Z" fill="#fff"/>
<circle cx="554.4" cy="505.0" r="3.5" fill="#000"/>
<path d="M552.62,505.56 A1.75,1.40 0 0 0 556.12,505.56 Z" fill="#fff"/>
<circle cx="559.7" cy="504.2" r="3.5" fill="#000"/>
<path d="M557.96,504.76 A1.75,1.40 0 0 0 561.46,504.76 Z" fill="#fff"/>
<circle cx="522.3" cy="505.0" r="3.5" fill="#000"/>
<path d="M520.54,505.56 A1.75,1.40 0 0 0 524.04,505.56 Z" fill="#fff"/>
<circle cx="601.7" cy="426.5" r="3.05" fill="#000"/>
<circle cx="611.2" cy="429.0" r="3.05" fill="#000"/>
<circle cx="606.6" cy="446.0" r="3.05" fill="#000"/>
<circle cx="606.6" cy="466.6" r="3.05" fill="#000"/>
<circle cx="601.7" cy="480.6" r="3.05" fill="#000"/>
<circle cx="611.2" cy="480.6" r="3.05" fill="#000"/>
<circle cx="606.6" cy="487.6" r="3.05" fill="#000"/>
<circle cx="587.8" cy="504.9" r="3.05" fill="#000"/>
<circle cx="597.1" cy="502.2" r="3.05" fill="#000"/>
<circle cx="606.6" cy="504.9" r="3.05" fill="#000"/>
<circle cx="616.1" cy="504.3" r="3.05" fill="#000"/>
<circle cx="625.4" cy="504.9" r="3.05" fill="#000"/>
<polyline points="475.4,52.8 475.4,49.3 606.4,49.3 606.4,52.8" fill="none" stroke="#1a1a1a" stroke-width="1.55"/>
<text x="516.8" y="41.9" font-size="11.5" fill="#222" text-anchor="start" stroke="#222" stroke-width="0.3" stroke-linejoin="round">P &lt; 0.0001</text>
<polyline points="540.9,75.5 540.9,72.0 606.4,72.0 606.4,75.5" fill="none" stroke="#1a1a1a" stroke-width="1.55"/>
<text x="548.3" y="64.6" font-size="11.6" fill="#222" text-anchor="start" stroke="#222" stroke-width="0.3" stroke-linejoin="round">P = 0.001</text>
<polyline points="475.4,82.7 475.4,79.2 540.9,79.2 540.9,82.7" fill="none" stroke="#1a1a1a" stroke-width="1.55"/>
<text x="501.6" y="71.4" font-size="12.5" fill="#222" text-anchor="start" stroke="#222" stroke-width="0.3" stroke-linejoin="round">ns</text>
<text x="573.6" y="145.8" font-size="11.8" fill="#222" text-anchor="start" stroke="#222" stroke-width="0.3" stroke-linejoin="round">Kruskal-Wallis</text>
<text x="573.6" y="159.9" font-size="11.8" fill="#222" text-anchor="start" stroke="#222" stroke-width="0.3" stroke-linejoin="round">P = 0.0002</text>
<polyline points="475.4,215.3 475.4,211.8 606.4,211.8 606.4,215.3" fill="none" stroke="#1a1a1a" stroke-width="1.55"/>
<text x="512.5" y="203.7" font-size="11.6" fill="#222" text-anchor="start" stroke="#222" stroke-width="0.3" stroke-linejoin="round">P = 0.0001</text>
<polyline points="540.9,236.2 540.9,232.7 606.4,232.7 606.4,236.2" fill="none" stroke="#1a1a1a" stroke-width="1.55"/>
<text x="544.7" y="224.3" font-size="11.6" fill="#222" text-anchor="start" stroke="#222" stroke-width="0.3" stroke-linejoin="round">P = 0.0249</text>
<polyline points="475.4,242.4 475.4,238.9 540.9,238.9 540.9,242.4" fill="none" stroke="#1a1a1a" stroke-width="1.55"/>
<text x="479.0" y="231.0" font-size="11.6" fill="#222" text-anchor="start" stroke="#222" stroke-width="0.3" stroke-linejoin="round">P = 0.0664</text>
<text x="475.6" y="534.3" font-size="13.6" fill="#222" text-anchor="middle" stroke="#222" stroke-width="0.3" stroke-linejoin="round">C/C</text>
<text x="541.6" y="534.3" font-size="13.6" fill="#222" text-anchor="middle" stroke="#222" stroke-width="0.3" stroke-linejoin="round">C/CAA</text>
<text x="606.6" y="534.3" font-size="13.6" fill="#222" text-anchor="middle" stroke="#222" stroke-width="0.3" stroke-linejoin="round">CAA/CAA</text>
<text x="367" y="534.4" font-size="14.8" font-style="italic" fill="#222" stroke="#222" stroke-width="0.3" stroke-linejoin="round">CFHR5<tspan font-size="10.5" font-style="normal" dy="4.6">fs</tspan></text>
<text x="21.0" y="561.3" font-size="24" font-weight="bold" fill="#000" text-anchor="start">c</text>
<line x1="58.40" y1="609.70" x2="58.40" y2="769.10" stroke="#111" stroke-width="1.6"/>
<line x1="51.90" y1="768.40" x2="217.10" y2="768.40" stroke="#111" stroke-width="1.6"/>
<line x1="51.90" y1="728.90" x2="58.40" y2="728.90" stroke="#111" stroke-width="1.6"/>
<line x1="51.90" y1="689.40" x2="58.40" y2="689.40" stroke="#111" stroke-width="1.6"/>
<line x1="51.90" y1="649.90" x2="58.40" y2="649.90" stroke="#111" stroke-width="1.6"/>
<line x1="51.90" y1="610.40" x2="58.40" y2="610.40" stroke="#111" stroke-width="1.6"/>
<text x="48.8" y="773.0" font-size="13" fill="#222" text-anchor="end" stroke="#222" stroke-width="0.3" stroke-linejoin="round">0</text>
<text x="48.8" y="733.5" font-size="13" fill="#222" text-anchor="end" stroke="#222" stroke-width="0.3" stroke-linejoin="round">1</text>
<text x="48.8" y="694.0" font-size="13" fill="#222" text-anchor="end" stroke="#222" stroke-width="0.3" stroke-linejoin="round">2</text>
<text x="48.8" y="654.5" font-size="13" fill="#222" text-anchor="end" stroke="#222" stroke-width="0.3" stroke-linejoin="round">3</text>
<text x="48.8" y="615.0" font-size="13" fill="#222" text-anchor="end" stroke="#222" stroke-width="0.3" stroke-linejoin="round">4</text>
<line x1="89.90" y1="768.40" x2="89.90" y2="775.70" stroke="#111" stroke-width="1.6"/>
<line x1="138.10" y1="768.40" x2="138.10" y2="775.70" stroke="#111" stroke-width="1.6"/>
<line x1="185.50" y1="768.40" x2="185.50" y2="775.70" stroke="#111" stroke-width="1.6"/>
<text transform="translate(34.1,685.3) rotate(-90)" font-size="12" fill="#222" stroke="#222" stroke-width="0.3" stroke-linejoin="round" text-anchor="middle">CP activation capacity [arb.]</text>
<text x="77.0" y="592.5" font-size="15" fill="#222" text-anchor="start" stroke="#222" stroke-width="0.3" stroke-linejoin="round">Classical Pathway</text>
<text x="89.9" y="794.1" font-size="15" fill="#222" text-anchor="middle" stroke="#222" stroke-width="0.3" stroke-linejoin="round">2200</text>
<text x="138.1" y="794.1" font-size="15" fill="#222" text-anchor="middle" stroke="#222" stroke-width="0.3" stroke-linejoin="round">2201</text>
<text x="185.5" y="794.1" font-size="15" fill="#222" text-anchor="middle" stroke="#222" stroke-width="0.3" stroke-linejoin="round">2202</text>
<text x="137.7" y="813.2" font-size="15" fill="#222" text-anchor="middle" stroke="#222" stroke-width="0.3" stroke-linejoin="round">CFH/CFHR5 haplotype</text>
<line x1="90.20" y1="694.90" x2="90.20" y2="738.30" stroke="#666" stroke-width="1.2"/>
<line x1="81.95" y1="694.90" x2="98.45" y2="694.90" stroke="#666" stroke-width="1.2"/>
<line x1="81.95" y1="738.30" x2="98.45" y2="738.30" stroke="#666" stroke-width="1.2"/>
<line x1="138.10" y1="684.20" x2="138.10" y2="738.70" stroke="#666" stroke-width="1.2"/>
<line x1="129.35" y1="684.20" x2="146.85" y2="684.20" stroke="#666" stroke-width="1.2"/>
<line x1="129.35" y1="738.70" x2="146.85" y2="738.70" stroke="#666" stroke-width="1.2"/>
<line x1="185.50" y1="680.60" x2="185.50" y2="693.40" stroke="#666" stroke-width="1.2"/>
<line x1="177.50" y1="680.60" x2="193.50" y2="680.60" stroke="#666" stroke-width="1.2"/>
<line x1="177.50" y1="693.40" x2="193.50" y2="693.40" stroke="#666" stroke-width="1.2"/>
<line x1="73.95" y1="716.30" x2="106.45" y2="716.30" stroke="#111" stroke-width="1.8"/>
<line x1="121.85" y1="711.30" x2="154.35" y2="711.30" stroke="#111" stroke-width="1.8"/>
<line x1="169.25" y1="686.90" x2="201.75" y2="686.90" stroke="#111" stroke-width="1.8"/>
<circle cx="90.3" cy="690.4" r="3.05" fill="none" stroke="#000" stroke-width="1.5"/>
<circle cx="103.3" cy="698.8" r="3.05" fill="none" stroke="#000" stroke-width="1.5"/>
<circle cx="90.3" cy="704.4" r="3.05" fill="none" stroke="#000" stroke-width="1.5"/>
<circle cx="77.5" cy="714.7" r="3.05" fill="none" stroke="#000" stroke-width="1.5"/>
<circle cx="90.3" cy="714.0" r="3.05" fill="none" stroke="#000" stroke-width="1.5"/>
<circle cx="103.3" cy="715.1" r="3.05" fill="none" stroke="#000" stroke-width="1.5"/>
<circle cx="83.7" cy="750.4" r="3.05" fill="none" stroke="#000" stroke-width="1.5"/>
<circle cx="96.5" cy="748.2" r="3.05" fill="none" stroke="#000" stroke-width="1.5"/>
<circle cx="138.1" cy="672.9" r="4.0" fill="#000"/>
<path d="M136.09,673.72 A2.0,1.60 0 0 0 140.09,673.72 Z" fill="#fff"/>
<circle cx="131.4" cy="693.1" r="4.0" fill="#000"/>
<path d="M129.35,693.94 A2.0,1.60 0 0 0 133.35,693.94 Z" fill="#fff"/>
<circle cx="144.4" cy="693.1" r="4.0" fill="#000"/>
<path d="M142.38,693.94 A2.0,1.60 0 0 0 146.38,693.94 Z" fill="#fff"/>
<circle cx="138.1" cy="711.8" r="4.0" fill="#000"/>
<path d="M136.09,712.58 A2.0,1.60 0 0 0 140.09,712.58 Z" fill="#fff"/>
<circle cx="131.4" cy="724.1" r="4.0" fill="#000"/>
<path d="M129.35,724.93 A2.0,1.60 0 0 0 133.35,724.93 Z" fill="#fff"/>
<circle cx="144.4" cy="729.7" r="4.0" fill="#000"/>
<path d="M142.38,730.54 A2.0,1.60 0 0 0 146.38,730.54 Z" fill="#fff"/>
<circle cx="138.1" cy="754.9" r="4.0" fill="#000"/>
<path d="M136.09,755.69 A2.0,1.60 0 0 0 140.09,755.69 Z" fill="#fff"/>
<circle cx="185.6" cy="671.4" r="3.3" fill="#000"/>
<circle cx="172.9" cy="682.2" r="3.3" fill="#000"/>
<circle cx="177.0" cy="685.1" r="3.3" fill="#000"/>
<circle cx="185.4" cy="685.7" r="3.3" fill="#000"/>
<circle cx="189.5" cy="683.4" r="3.3" fill="#000"/>
<circle cx="194.2" cy="686.0" r="3.3" fill="#000"/>
<circle cx="198.6" cy="688.9" r="3.3" fill="#000"/>
<circle cx="181.4" cy="688.6" r="3.3" fill="#000"/>
<circle cx="185.4" cy="691.8" r="3.3" fill="#000"/>
<circle cx="177.0" cy="692.4" r="3.3" fill="#000"/>
<circle cx="189.5" cy="689.8" r="3.3" fill="#000"/>
<circle cx="193.9" cy="695.9" r="3.3" fill="#000"/>
<polyline points="89.8,634.1 89.8,630.3 185.7,630.3 185.7,634.1" fill="none" stroke="#111" stroke-width="1.5"/>
<text x="106.3" y="621.5" font-size="12.7" fill="#222" text-anchor="start" stroke="#222" stroke-width="0.3" stroke-linejoin="round">P = 0.0001</text>
<polyline points="138.1,659.4 138.1,655.6 185.7,655.6 185.7,662.1" fill="none" stroke="#111" stroke-width="1.5"/>
<text x="133.9" y="647.1" font-size="12.7" fill="#222" text-anchor="start" stroke="#222" stroke-width="0.3" stroke-linejoin="round">P = 0.013</text>
<polyline points="89.8,666.6 89.8,662.8 138.1,662.8 138.1,666.6" fill="none" stroke="#111" stroke-width="1.5"/>
<text x="107.0" y="653.8" font-size="12.7" fill="#222" text-anchor="start" stroke="#222" stroke-width="0.3" stroke-linejoin="round">ns</text>
<line x1="282.90" y1="608.70" x2="282.90" y2="768.90" stroke="#111" stroke-width="1.6"/>
<line x1="276.40" y1="768.20" x2="442.20" y2="768.20" stroke="#111" stroke-width="1.6"/>
<line x1="276.40" y1="728.50" x2="282.90" y2="728.50" stroke="#111" stroke-width="1.6"/>
<line x1="276.40" y1="688.80" x2="282.90" y2="688.80" stroke="#111" stroke-width="1.6"/>
<line x1="276.40" y1="649.10" x2="282.90" y2="649.10" stroke="#111" stroke-width="1.6"/>
<line x1="276.40" y1="609.40" x2="282.90" y2="609.40" stroke="#111" stroke-width="1.6"/>
<text x="273.3" y="772.8" font-size="13" fill="#222" text-anchor="end" stroke="#222" stroke-width="0.3" stroke-linejoin="round">0</text>
<text x="273.3" y="733.1" font-size="13" fill="#222" text-anchor="end" stroke="#222" stroke-width="0.3" stroke-linejoin="round">1</text>
<text x="273.3" y="693.4" font-size="13" fill="#222" text-anchor="end" stroke="#222" stroke-width="0.3" stroke-linejoin="round">2</text>
<text x="273.3" y="653.7" font-size="13" fill="#222" text-anchor="end" stroke="#222" stroke-width="0.3" stroke-linejoin="round">3</text>
<text x="273.3" y="614.0" font-size="13" fill="#222" text-anchor="end" stroke="#222" stroke-width="0.3" stroke-linejoin="round">4</text>
<line x1="314.40" y1="768.20" x2="314.40" y2="775.50" stroke="#111" stroke-width="1.6"/>
<line x1="362.60" y1="768.20" x2="362.60" y2="775.50" stroke="#111" stroke-width="1.6"/>
<line x1="410.80" y1="768.20" x2="410.80" y2="775.50" stroke="#111" stroke-width="1.6"/>
<text transform="translate(258.0,685.3) rotate(-90)" font-size="12" fill="#222" stroke="#222" stroke-width="0.3" stroke-linejoin="round" text-anchor="middle">AP activation capacity [arb.]</text>
<text x="294.1" y="592.5" font-size="15" fill="#222" text-anchor="start" stroke="#222" stroke-width="0.3" stroke-linejoin="round">Alternative Pathway</text>
<text x="314.4" y="794.1" font-size="15" fill="#222" text-anchor="middle" stroke="#222" stroke-width="0.3" stroke-linejoin="round">2200</text>
<text x="362.6" y="794.1" font-size="15" fill="#222" text-anchor="middle" stroke="#222" stroke-width="0.3" stroke-linejoin="round">2201</text>
<text x="410.8" y="794.1" font-size="15" fill="#222" text-anchor="middle" stroke="#222" stroke-width="0.3" stroke-linejoin="round">2202</text>
<text x="362.6" y="813.2" font-size="15" fill="#222" text-anchor="middle" stroke="#222" stroke-width="0.3" stroke-linejoin="round">CFH/CFHR5 haplotype</text>
<line x1="314.40" y1="686.20" x2="314.40" y2="751.60" stroke="#666" stroke-width="1.2"/>
<line x1="306.40" y1="686.20" x2="322.40" y2="686.20" stroke="#666" stroke-width="1.2"/>
<line x1="306.40" y1="751.60" x2="322.40" y2="751.60" stroke="#666" stroke-width="1.2"/>
<line x1="362.60" y1="664.90" x2="362.60" y2="751.60" stroke="#666" stroke-width="1.2"/>
<line x1="354.10" y1="664.90" x2="371.10" y2="664.90" stroke="#666" stroke-width="1.2"/>
<line x1="354.10" y1="751.60" x2="371.10" y2="751.60" stroke="#666" stroke-width="1.2"/>
<line x1="411.00" y1="661.10" x2="411.00" y2="693.50" stroke="#666" stroke-width="1.2"/>
<line x1="403.00" y1="661.10" x2="419.00" y2="661.10" stroke="#666" stroke-width="1.2"/>
<line x1="403.00" y1="693.50" x2="419.00" y2="693.50" stroke="#666" stroke-width="1.2"/>
<line x1="298.15" y1="718.90" x2="330.65" y2="718.90" stroke="#111" stroke-width="1.8"/>
<line x1="346.35" y1="708.10" x2="378.85" y2="708.10" stroke="#111" stroke-width="1.8"/>
<line x1="394.75" y1="677.10" x2="427.25" y2="677.10" stroke="#111" stroke-width="1.8"/>
<circle cx="302.2" cy="688.2" r="3.05" fill="none" stroke="#000" stroke-width="1.5"/>
<circle cx="314.4" cy="690.3" r="3.05" fill="none" stroke="#000" stroke-width="1.5"/>
<circle cx="327.8" cy="689.1" r="3.05" fill="none" stroke="#000" stroke-width="1.5"/>
<circle cx="314.4" cy="698.5" r="3.05" fill="none" stroke="#000" stroke-width="1.5"/>
<circle cx="314.4" cy="717.4" r="3.05" fill="none" stroke="#000" stroke-width="1.5"/>
<circle cx="314.4" cy="744.6" r="3.05" fill="none" stroke="#000" stroke-width="1.5"/>
<circle cx="314.4" cy="755.4" r="3.05" fill="none" stroke="#000" stroke-width="1.5"/>
<circle cx="314.4" cy="768.5" r="3.05" fill="none" stroke="#000" stroke-width="1.5"/>
<circle cx="356.2" cy="665.8" r="4.0" fill="#000"/>
<path d="M354.17,666.57 A2.0,1.60 0 0 0 358.17,666.57 Z" fill="#fff"/>
<circle cx="369.3" cy="667.2" r="4.0" fill="#000"/>
<path d="M367.31,668.03 A2.0,1.60 0 0 0 371.31,668.03 Z" fill="#fff"/>
<circle cx="351.2" cy="696.1" r="4.0" fill="#000"/>
<path d="M349.20,696.93 A2.0,1.60 0 0 0 353.20,696.93 Z" fill="#fff"/>
<circle cx="362.6" cy="694.7" r="4.0" fill="#000"/>
<path d="M360.59,695.47 A2.0,1.60 0 0 0 364.59,695.47 Z" fill="#fff"/>
<circle cx="375.7" cy="697.9" r="4.0" fill="#000"/>
<path d="M373.73,698.68 A2.0,1.60 0 0 0 377.73,698.68 Z" fill="#fff"/>
<circle cx="356.2" cy="768.5" r="4.0" fill="#000"/>
<path d="M354.17,769.34 A2.0,1.60 0 0 0 358.17,769.34 Z" fill="#fff"/>
<circle cx="369.3" cy="768.0" r="4.0" fill="#000"/>
<path d="M367.31,768.76 A2.0,1.60 0 0 0 371.31,768.76 Z" fill="#fff"/>
<circle cx="411.0" cy="657.1" r="3.3" fill="#000"/>
<circle cx="397.9" cy="663.8" r="3.3" fill="#000"/>
<circle cx="406.4" cy="668.9" r="3.3" fill="#000"/>
<circle cx="414.9" cy="667.3" r="3.3" fill="#000"/>
<circle cx="423.7" cy="666.8" r="3.3" fill="#000"/>
<circle cx="397.9" cy="672.6" r="3.3" fill="#000"/>
<circle cx="423.7" cy="674.6" r="3.3" fill="#000"/>
<circle cx="397.9" cy="680.1" r="3.3" fill="#000"/>
<circle cx="414.9" cy="679.6" r="3.3" fill="#000"/>
<circle cx="406.4" cy="685.1" r="3.3" fill="#000"/>
<circle cx="411.0" cy="691.9" r="3.3" fill="#000"/>
<circle cx="411.0" cy="719.0" r="3.3" fill="#000"/>
<polyline points="314.4,627.8 314.4,624.0 411.6,624.0 411.6,627.8" fill="none" stroke="#111" stroke-width="1.5"/>
<text x="335.8" y="615.3" font-size="12.7" fill="#222" text-anchor="start" stroke="#222" stroke-width="0.3" stroke-linejoin="round">P = 0.001</text>
<polyline points="362.6,652.0 362.6,648.2 411.6,648.2 411.6,654.7" fill="none" stroke="#111" stroke-width="1.5"/>
<text x="359.7" y="640.0" font-size="12.7" fill="#222" text-anchor="start" stroke="#222" stroke-width="0.3" stroke-linejoin="round">P = 0.104</text>
<polyline points="314.4,660.8 314.4,657.0 362.6,657.0 362.6,660.8" fill="none" stroke="#111" stroke-width="1.5"/>
<text x="331.4" y="648.8" font-size="12.7" fill="#222" text-anchor="start" stroke="#222" stroke-width="0.3" stroke-linejoin="round">ns</text>
<line x1="512.00" y1="605.90" x2="512.00" y2="769.30" stroke="#111" stroke-width="1.6"/>
<line x1="505.50" y1="768.60" x2="674.60" y2="768.60" stroke="#111" stroke-width="1.6"/>
<line x1="505.50" y1="728.10" x2="512.00" y2="728.10" stroke="#111" stroke-width="1.6"/>
<line x1="505.50" y1="687.60" x2="512.00" y2="687.60" stroke="#111" stroke-width="1.6"/>
<line x1="505.50" y1="647.10" x2="512.00" y2="647.10" stroke="#111" stroke-width="1.6"/>
<line x1="505.50" y1="606.60" x2="512.00" y2="606.60" stroke="#111" stroke-width="1.6"/>
<text x="502.4" y="773.2" font-size="13" fill="#222" text-anchor="end" stroke="#222" stroke-width="0.3" stroke-linejoin="round">0</text>
<text x="502.4" y="732.7" font-size="13" fill="#222" text-anchor="end" stroke="#222" stroke-width="0.3" stroke-linejoin="round">1</text>
<text x="502.4" y="692.2" font-size="13" fill="#222" text-anchor="end" stroke="#222" stroke-width="0.3" stroke-linejoin="round">2</text>
<text x="502.4" y="651.7" font-size="13" fill="#222" text-anchor="end" stroke="#222" stroke-width="0.3" stroke-linejoin="round">3</text>
<text x="502.4" y="611.2" font-size="13" fill="#222" text-anchor="end" stroke="#222" stroke-width="0.3" stroke-linejoin="round">4</text>
<line x1="544.30" y1="768.60" x2="544.30" y2="775.90" stroke="#111" stroke-width="1.6"/>
<line x1="593.00" y1="768.60" x2="593.00" y2="775.90" stroke="#111" stroke-width="1.6"/>
<line x1="642.10" y1="768.60" x2="642.10" y2="775.90" stroke="#111" stroke-width="1.6"/>
<text transform="translate(487.1,685.3) rotate(-90)" font-size="12" fill="#222" stroke="#222" stroke-width="0.3" stroke-linejoin="round" text-anchor="middle">LP activation capacity [arb.]</text>
<text x="537.6" y="592.5" font-size="15.3" fill="#222" text-anchor="start" stroke="#222" stroke-width="0.3" stroke-linejoin="round">Lectin Pathway</text>
<text x="544.3" y="794.1" font-size="15" fill="#222" text-anchor="middle" stroke="#222" stroke-width="0.3" stroke-linejoin="round">2200</text>
<text x="593.0" y="794.1" font-size="15" fill="#222" text-anchor="middle" stroke="#222" stroke-width="0.3" stroke-linejoin="round">2201</text>
<text x="642.1" y="794.1" font-size="15" fill="#222" text-anchor="middle" stroke="#222" stroke-width="0.3" stroke-linejoin="round">2202</text>
<text x="593.2" y="813.2" font-size="15" fill="#222" text-anchor="middle" stroke="#222" stroke-width="0.3" stroke-linejoin="round">CFH/CFHR5 haplotype</text>
<line x1="544.50" y1="697.10" x2="544.50" y2="764.60" stroke="#666" stroke-width="1.2"/>
<line x1="536.50" y1="697.10" x2="552.50" y2="697.10" stroke="#666" stroke-width="1.2"/>
<line x1="536.50" y1="764.60" x2="552.50" y2="764.60" stroke="#666" stroke-width="1.2"/>
<line x1="593.00" y1="687.70" x2="593.00" y2="746.40" stroke="#666" stroke-width="1.2"/>
<line x1="584.50" y1="687.70" x2="601.50" y2="687.70" stroke="#666" stroke-width="1.2"/>
<line x1="584.50" y1="746.40" x2="601.50" y2="746.40" stroke="#666" stroke-width="1.2"/>
<line x1="642.10" y1="701.80" x2="642.10" y2="771.00" stroke="#666" stroke-width="1.2"/>
<line x1="634.10" y1="701.80" x2="650.10" y2="701.80" stroke="#666" stroke-width="1.2"/>
<line x1="634.10" y1="771.00" x2="650.10" y2="771.00" stroke="#666" stroke-width="1.2"/>
<line x1="528.25" y1="731.00" x2="560.75" y2="731.00" stroke="#111" stroke-width="1.8"/>
<line x1="576.75" y1="716.90" x2="609.25" y2="716.90" stroke="#111" stroke-width="1.8"/>
<line x1="625.85" y1="737.30" x2="658.35" y2="737.30" stroke="#111" stroke-width="1.8"/>
<circle cx="531.2" cy="702.8" r="3.05" fill="none" stroke="#000" stroke-width="1.5"/>
<circle cx="539.7" cy="697.1" r="3.05" fill="none" stroke="#000" stroke-width="1.5"/>
<circle cx="548.5" cy="701.2" r="3.05" fill="none" stroke="#000" stroke-width="1.5"/>
<circle cx="557.3" cy="700.3" r="3.05" fill="none" stroke="#000" stroke-width="1.5"/>
<circle cx="544.7" cy="752.7" r="3.05" fill="none" stroke="#000" stroke-width="1.5"/>
<circle cx="544.7" cy="759.9" r="3.05" fill="none" stroke="#000" stroke-width="1.5"/>
<circle cx="539.7" cy="767.7" r="3.05" fill="none" stroke="#000" stroke-width="1.5"/>
<circle cx="548.5" cy="767.1" r="3.05" fill="none" stroke="#000" stroke-width="1.5"/>
<circle cx="586.8" cy="679.2" r="4.0" fill="#000"/>
<path d="M584.76,680.03 A2.0,1.60 0 0 0 588.76,680.03 Z" fill="#fff"/>
<circle cx="599.3" cy="680.5" r="4.0" fill="#000"/>
<path d="M597.32,681.28 A2.0,1.60 0 0 0 601.32,681.28 Z" fill="#fff"/>
<circle cx="593.0" cy="705.6" r="4.0" fill="#000"/>
<path d="M591.04,706.39 A2.0,1.60 0 0 0 595.04,706.39 Z" fill="#fff"/>
<circle cx="586.8" cy="728.5" r="4.0" fill="#000"/>
<path d="M584.76,729.31 A2.0,1.60 0 0 0 588.76,729.31 Z" fill="#fff"/>
<circle cx="599.3" cy="728.5" r="4.0" fill="#000"/>
<path d="M597.32,729.31 A2.0,1.60 0 0 0 601.32,729.31 Z" fill="#fff"/>
<circle cx="593.0" cy="738.9" r="4.0" fill="#000"/>
<path d="M591.04,739.66 A2.0,1.60 0 0 0 595.04,739.66 Z" fill="#fff"/>
<circle cx="593.0" cy="758.3" r="4.0" fill="#000"/>
<path d="M591.04,759.12 A2.0,1.60 0 0 0 595.04,759.12 Z" fill="#fff"/>
<circle cx="635.7" cy="676.1" r="3.3" fill="#000"/>
<circle cx="642.0" cy="679.2" r="3.3" fill="#000"/>
<circle cx="642.0" cy="698.7" r="3.3" fill="#000"/>
<circle cx="642.0" cy="723.2" r="3.3" fill="#000"/>
<circle cx="638.7" cy="740.3" r="3.3" fill="#000"/>
<circle cx="645.4" cy="740.3" r="3.3" fill="#000"/>
<circle cx="642.0" cy="748.0" r="3.3" fill="#000"/>
<circle cx="629.0" cy="768.3" r="3.3" fill="#000"/>
<circle cx="635.3" cy="765.3" r="3.3" fill="#000"/>
<circle cx="641.9" cy="768.3" r="3.3" fill="#000"/>
<circle cx="648.6" cy="767.7" r="3.3" fill="#000"/>
<circle cx="655.0" cy="768.7" r="3.3" fill="#000"/>
</svg>
</body></html>
